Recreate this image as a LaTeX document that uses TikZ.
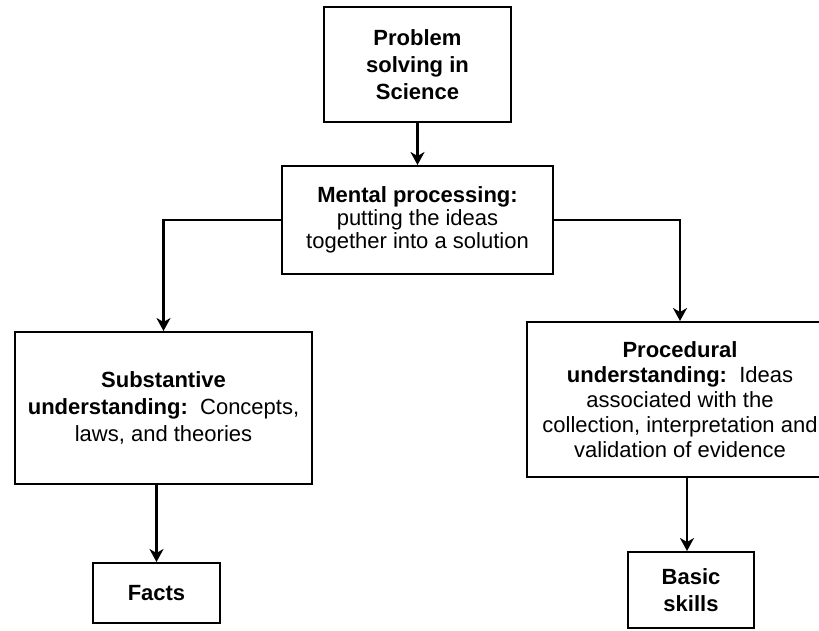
\documentclass[tikz,border=0pt]{standalone}
\usepackage{fontspec}
\setmainfont{Liberation Sans}
\usetikzlibrary{arrows.meta}
\begin{document}
\begin{tikzpicture}[x=1pt,y=-1pt,
  box/.style={draw=black,line width=2pt,rectangle,inner sep=0pt,align=center,
    font=\fontsize{22}{27}\selectfont},
  conn/.style={line width=2.2pt},
  arr/.style={line width=2.6pt,-{Stealth[length=13pt,width=14pt,inset=4pt]}}]
\useasboundingbox (0,0) rectangle (819,630);
\fill[white] (0,0) rectangle (819,630);
\node[box,minimum width=187pt,minimum height=115pt] (top) at (417.5,64.5)
  {\bfseries Problem\\\bfseries solving in\\\bfseries Science};
\node[box,minimum width=271pt,minimum height=108pt,font=\fontsize{22}{23}\selectfont] (mental) at (417.5,220)
  {\bfseries Mental processing:\\putting the ideas\\together into a solution};
\node[box,minimum width=297pt,minimum height=152pt] (subst) at (163.5,408)
  {\bfseries Substantive\\{\bfseries understanding:}\ \ Concepts,\\laws, and theories};
\node[box,minimum width=127pt,minimum height=60pt] (facts) at (156.5,593)
  {\bfseries Facts};
\node[box,minimum width=306pt,minimum height=155pt,font=\fontsize{22}{25}\selectfont] (proc) at (680,399.5)
  {\bfseries Procedural\\{\bfseries understanding:}\ \ Ideas\\associated with the\\collection, interpretation and\\validation of evidence};
\node[box,minimum width=126pt,minimum height=76pt] (basic) at (691,590)
  {\bfseries Basic\\\bfseries skills};
\draw[arr] (top.south) -- (mental.north);
\draw[conn] (mental.west) -| ([yshift=12pt]subst.north);
\draw[arr] ([yshift=14pt]subst.north) -- (subst.north);
\draw[conn] (mental.east) -| ([yshift=12pt]proc.north);
\draw[arr] ([yshift=14pt]proc.north) -- (proc.north);
\draw[arr] (subst.south -| facts.north) -- (facts.north);
\draw[arr] ([xshift=-4pt]basic.north |- proc.south) -- ([xshift=-4pt]basic.north);
\end{tikzpicture}
\end{document}
